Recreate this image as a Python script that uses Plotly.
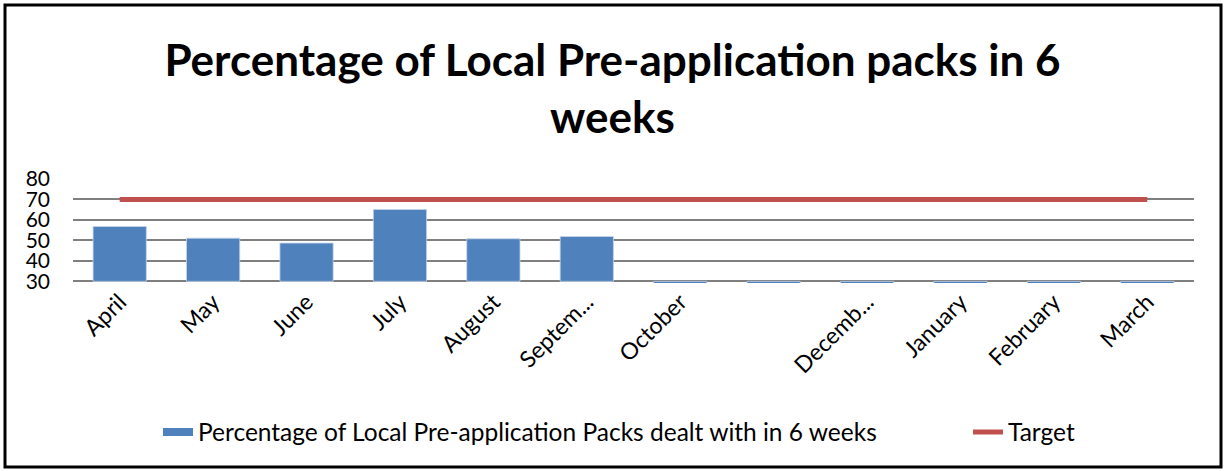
import plotly.graph_objects as go

months = ["April", "May", "June", "July", "August", "September", "October",
          "November", "December", "January", "February", "March"]
tick_labels = ["April", "May", "June", "July", "August", "Septem...", "October",
               "", "Decemb...", "January", "February", "March"]
pct_values = [56.8, 51.1, 48.7, 65.1, 50.8, 51.9, 0, 0, 0, 0, 0, 0]
target = [70] * 12
series_name = "Percentage of Local Pre-application Packs dealt with in 6 weeks"

axis_min = 30
y_lo, y_hi = 29.2, 80

W, H = 1225, 471
L, R, T, B = 73, 31, 179, 188
pw = W - L - R
ph = H - T - B

BLUE = "#4F81BD"
RED = "#C0504D"

fig = go.Figure()
fig.add_trace(go.Bar(
    x=months, y=[v - axis_min for v in pct_values], base=axis_min,
    name=series_name, showlegend=False,
    marker=dict(color=BLUE, line=dict(color="#C6D4E8", width=0.8)),
    hoverinfo="skip",
))
# legend entry for the bar series (wide rectangular swatch)
fig.add_trace(go.Scatter(
    x=[None], y=[None], mode="lines", name=series_name,
    line=dict(color=BLUE, width=8), showlegend=True, legend="legend",
))
fig.add_trace(go.Scatter(
    x=months, y=target, mode="lines", name="Target",
    line=dict(color=RED, width=5), legend="legend2",
))

leg_y = -(432 - (T + ph)) / ph
fig.update_layout(
    width=W, height=H,
    margin=dict(l=L, r=R, t=T, b=B),
    paper_bgcolor="white", plot_bgcolor="white",
    font=dict(family="Lato", color="black"),
    title=dict(
        text="<b>Percentage of Local Pre-application packs in 6<br>weeks</b>",
        x=0.5, xanchor="center", y=1 - 76 / H, yanchor="middle",
        font=dict(size=44, family="Lato", color="black"),
        automargin=False,
    ),
    bargap=0.43,
    showlegend=True,
    legend=dict(
        orientation="h", x=(158 - L) / pw, xanchor="left",
        y=leg_y, yanchor="middle", font=dict(size=24.5),
        bgcolor="rgba(0,0,0,0)",
    ),
    legend2=dict(
        orientation="h", x=(968 - L) / pw, xanchor="left",
        y=leg_y, yanchor="middle", font=dict(size=24.5),
        bgcolor="rgba(0,0,0,0)",
    ),
    xaxis=dict(
        tickmode="array", tickvals=months, ticktext=tick_labels,
        tickangle=-45, tickfont=dict(size=23), showgrid=False,
        showline=False, ticks="", automargin=False,
    ),
    yaxis=dict(
        range=[y_lo, y_hi], tickvals=[30, 40, 50, 60, 70, 80],
        showgrid=True, gridcolor="#7f7f7f", gridwidth=1.5,
        tickfont=dict(size=21), zeroline=False, showline=False,
        ticklabelstandoff=22, automargin=False,
    ),
    shapes=[dict(
        type="rect", xref="paper", yref="paper",
        x0=(5 - L) / pw, x1=(1221 - L) / pw,
        y0=(T + ph - 467) / ph, y1=(T + ph - 5) / ph,
        line=dict(color="black", width=3), fillcolor="rgba(0,0,0,0)",
        layer="above",
    )],
)

fig.write_html("out.html")
